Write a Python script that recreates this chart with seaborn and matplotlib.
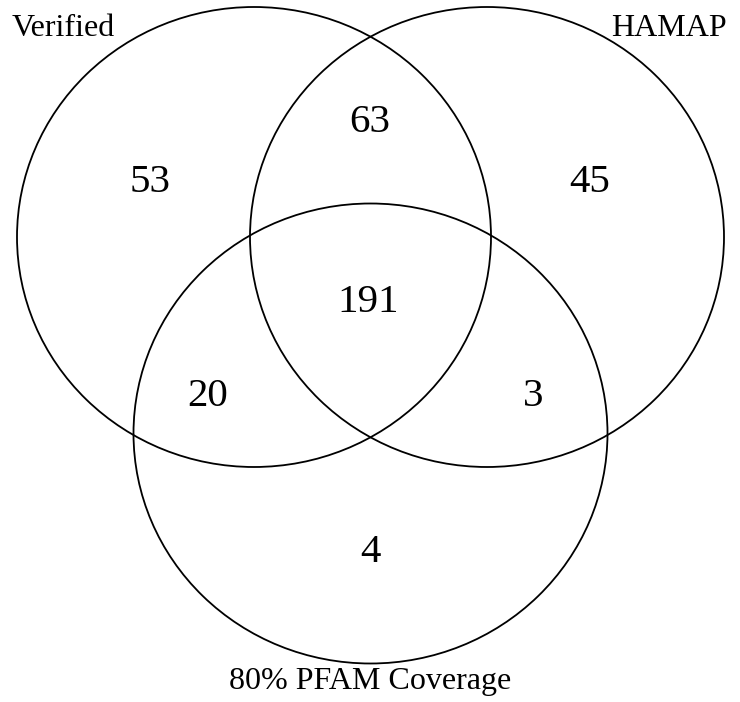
import matplotlib
matplotlib.use("Agg")
import matplotlib.pyplot as plt
from matplotlib.patches import Ellipse
import seaborn as sns

# set names and region counts
set_names = ["Verified", "HAMAP", "80% PFAM Coverage"]
regions = ["100", "110", "010", "111", "101", "011", "001"]
counts = [53, 63, 45, 191, 20, 3, 4]

# layout (pixel space of the 740x702 canvas)
centers = [(254, 237), (487, 237), (370.5, 433.5)]
rx, ry = 237, 230
region_pos = {
    "100": (150, 182), "110": (370, 123), "010": (590, 182),
    "111": (368, 302), "101": (208, 397), "011": (533, 397),
    "001": (370, 552),
}
name_pos = [(63, 29), (669, 29), (370, 682)]

sns.set_theme(style="white")
plt.rcParams["font.family"] = ["Liberation Serif", "DejaVu Serif"]

fig = plt.figure(figsize=(7.4, 7.02), dpi=100)
ax = fig.add_axes([0, 0, 1, 1])
ax.set_xlim(0, 740)
ax.set_ylim(702, 0)
ax.axis("off")

for cx, cy in centers:
    ax.add_patch(Ellipse((cx, cy), 2 * rx, 2 * ry, fill=False,
                         edgecolor="black", linewidth=1.3))

for key, n in zip(regions, counts):
    x, y = region_pos[key]
    ax.text(x, y, str(n), fontsize=29.5, ha="center", va="center", color="black")

for name, (x, y) in zip(set_names, name_pos):
    ax.text(x, y, name, fontsize=23, ha="center", va="center", color="black")

fig.savefig("out.png", dpi=100, facecolor="white")
